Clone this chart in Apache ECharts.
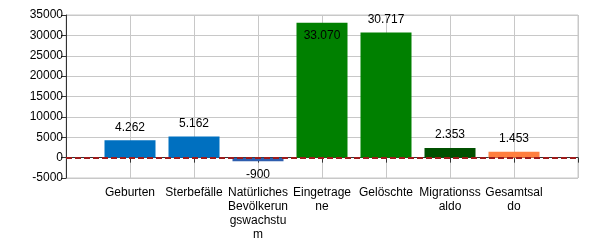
<!DOCTYPE html>
<html><head><meta charset="utf-8">
<script src="https://cdn.jsdelivr.net/npm/echarts@6/dist/echarts.min.js"></script>
<style>html,body{margin:0;padding:0;background:#fff}#c{width:600px;height:250px}</style>
</head><body><div id="c"></div>
<script>
const categories = ['', 'Geburten', 'Sterbefälle', 'Natürliches Bevölkerungswachstum', 'Eingetragene', 'Gelöschte', 'Migrationssaldo', 'Gesamtsaldo', ''];
const tickLabels = ['', 'Geburten', 'Sterbefälle', 'Natürliches\nBevölkerun\ngswachstu\nm', 'Eingetrage\nne', 'Gelöschte', 'Migrationss\naldo', 'Gesamtsal\ndo', ''];
const values = [null, 4262, 5162, -900, 33070, 30717, 2353, 1453, null];
const barColors = ['#000', '#0070C0', '#0070C0', '#2E5EAE', '#008000', '#008000', '#005000', '#FF7F3F', '#000'];
const labelPositions = ['top', 'top', 'top', 'bottom', 'insideTop', 'top', 'top', 'top', 'top'];
const yTicks = [-5000, 0, 5000, 10000, 15000, 20000, 25000, 30000, 35000];

const fmt = v => {
  const s = Math.abs(v).toString().replace(/\B(?=(\d{3})+(?!\d))/g, '.');
  return (v < 0 ? '-' : '') + s;
};

const chart = echarts.init(document.getElementById('c'));
chart.setOption({
  animation: false,
  grid: { left: 66, right: 22, top: 15, bottom: 72, show: true, borderColor: '#c8c8c8', borderWidth: 1 },
  textStyle: { fontFamily: 'Liberation Sans, Arial, sans-serif' },
  xAxis: {
    type: 'category',
    data: categories,
    boundaryGap: false,
    axisLine: { lineStyle: { color: '#333', width: 1 } },
    axisTick: { alignWithLabel: true, length: 5, lineStyle: { color: '#333' }, interval: 0 },
    axisLabel: {
      interval: 0, color: '#000', fontSize: 12, lineHeight: 14, margin: 8,
      fontFamily: 'Liberation Sans, Arial, sans-serif',
      formatter: (v, i) => tickLabels[i]
    },
    splitLine: { show: true, interval: 0, lineStyle: { color: '#c8c8c8' } }
  },
  yAxis: {
    type: 'value',
    min: yTicks[0], max: yTicks[yTicks.length - 1], interval: 5000,
    axisLine: { show: true, lineStyle: { color: '#333' } },
    axisTick: { show: true, length: 5, lineStyle: { color: '#333' } },
    axisLabel: { color: '#000', fontSize: 12, margin: 3, fontFamily: 'Liberation Sans, Arial, sans-serif',
      formatter: v => String(v) },
    splitLine: { show: true, lineStyle: { color: '#c8c8c8' } }
  },
  series: [{
    type: 'bar',
    barWidth: 51,
    data: values.map((v, i) => ({
      value: v,
      itemStyle: { color: barColors[i] },
      label: { position: labelPositions[i] }
    })),
    label: {
      show: true, color: '#000', fontSize: 12, distance: 7,
      fontFamily: 'Liberation Sans, Arial, sans-serif',
      formatter: p => p.value == null ? '' : fmt(p.value)
    },
    markLine: {
      silent: true, symbol: 'none', label: { show: false }, z: 10,
      lineStyle: { color: '#9E1B1B', width: 2, type: [6, 3], opacity: 1 },
      emphasis: { disabled: true },
      data: [{ yAxis: 0 }]
    }
  }]
});
</script></body></html>
